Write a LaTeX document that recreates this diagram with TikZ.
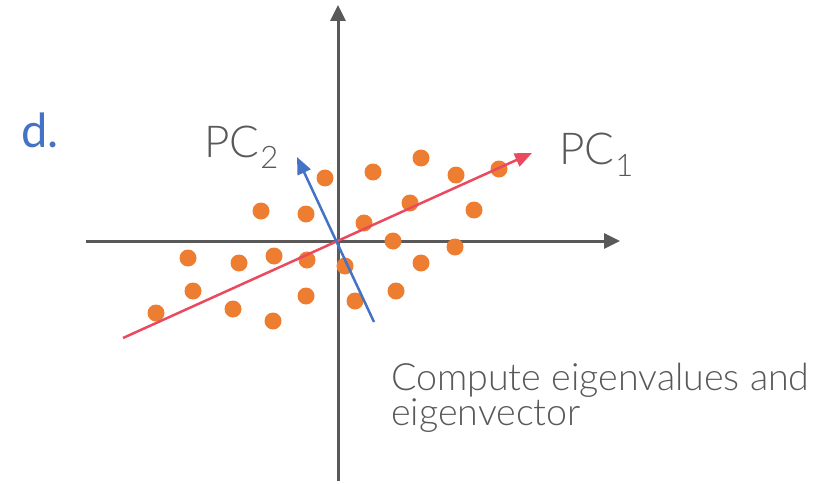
\documentclass[tikz,border=0pt]{standalone}
\usepackage{fontspec}
\setmainfont{Lato}
\newfontfamily\latolight{Lato Light}
\usetikzlibrary{arrows.meta}
\definecolor{axisgray}{RGB}{89,89,89}
\definecolor{txtgray}{RGB}{89,89,89}
\definecolor{dotorange}{RGB}{237,125,49}
\definecolor{pcblue}{RGB}{68,114,196}
\definecolor{pcred}{RGB}{235,74,94}
\begin{document}
\begin{tikzpicture}[x=1pt,y=-1pt,
  axis/.style={draw=axisgray,line width=3pt,-{Triangle[length=16pt,width=15pt]}},
  pcone/.style={draw=pcred,line width=2.5pt,-{Triangle[length=17pt,width=14pt]}},
  pctwo/.style={draw=pcblue,line width=2.5pt,-{Triangle[length=17pt,width=14pt]}},
  dot/.style={circle,fill=dotorange,minimum size=17pt,inner sep=0pt},
  lbl/.style={anchor=base west,inner sep=0pt,text=txtgray,font=\latolight\fontsize{44}{44}\selectfont},
  note/.style={anchor=base west,inner sep=0pt,text=txtgray,font=\latolight\fontsize{37.6}{37.6}\selectfont}]
\useasboundingbox[fill=white] (0,0) rectangle (821,484);
% axes
\coordinate (xl) at (86,241);
\coordinate (xr) at (620,241);
\coordinate (yb) at (338,481);
\coordinate (yt) at (338,5);
\draw[axis] (xl) -- (xr);
\draw[axis] (yb) -- (yt);
% dots
\foreach \n/\x/\y in {1/325/178,2/373/172,3/421/158,4/456/175,5/499/169,
  6/261/211,7/306/214,8/364/223,9/410/203,10/474/210,11/393/241,12/455/247,
  13/188/258,14/239/263,15/274/256,16/307/260,17/345/266,18/421/263,
  19/193/291,20/233/309,21/273/321,22/306/296,23/355/301,24/396/291,25/156/313}
  \node[dot] (d\n) at (\x,\y) {};
% principal components
\coordinate (p1s) at (123,338);
\coordinate (p1e) at (532,153);
\coordinate (p2s) at (374,322);
\coordinate (p2e) at (297,157);
\draw[pcone] (p1s) -- (p1e);
\draw[pctwo] (p2s) -- (p2e);
% labels
\node[anchor=base west,inner sep=0pt,text=pcblue,font=\fontsize{47}{47}\selectfont] (lab) at (21,147) {d.};
\node[lbl] (pc2) at (204,157) {PC\kern1pt{\fontsize{31}{31}\selectfont\raisebox{-12pt}{2}}};
\node[lbl] (pc1) at (559,164) {PC\kern1pt{\fontsize{31}{31}\selectfont\raisebox{-12pt}{1}}};
\node[note] (n1) at (391,390) {Compute eigenvalues and};
\node[note] (n2) at (391,425) {eigenvector};
\end{tikzpicture}
\end{document}
